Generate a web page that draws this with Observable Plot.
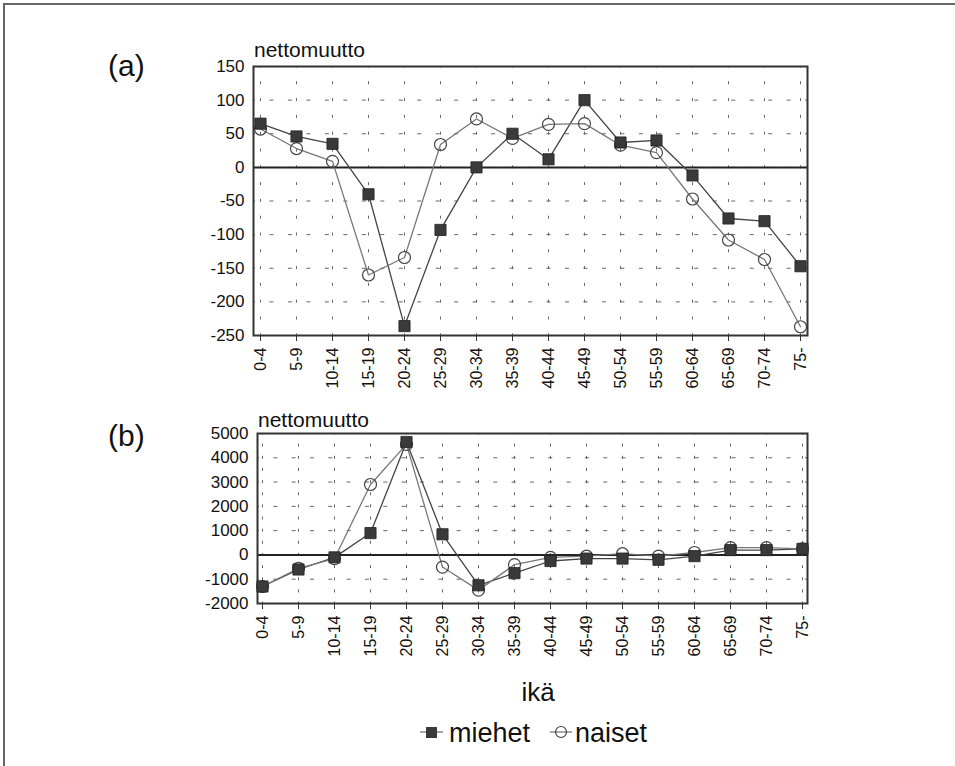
<!DOCTYPE html>
<html><head><meta charset="utf-8">
<script src="https://cdn.jsdelivr.net/npm/d3@7"></script>
<script src="https://cdn.jsdelivr.net/npm/@observablehq/plot@0.6"></script>
<style>
body{margin:0;background:#fff;font-family:"Liberation Sans",Arial,Helvetica,sans-serif;}
#wrap{position:relative;width:955px;height:766px;overflow:hidden;background:#fff;}
.frame{position:absolute;left:3px;top:3px;width:1000px;height:800px;border-left:2px solid #666;border-top:2px solid #666;box-sizing:border-box;}
#pa{position:absolute;left:0;top:0;}
#pb{position:absolute;left:0;top:400px;}
#ov{position:absolute;left:0;top:0;pointer-events:none;}
</style></head><body>
<div id="wrap"><div class="frame"></div><div id="pa"></div><div id="pb"></div></div>
<script>
// ---- data ----
const ageGroups = ["0-4","5-9","10-14","15-19","20-24","25-29","30-34","35-39","40-44","45-49","50-54","55-59","60-64","65-69","70-74","75-"];
const miehetA = [65, 46, 35, -40, -236, -93, 0, 50, 12, 100, 37, 40, -12, -76, -80, -147];
const naisetA = [57, 28, 9, -160, -134, 34, 72, 43, 64, 65, 33, 22, -47, -108, -137, -237];
const miehetB = [-1300, -600, -100, 900, 4650, 850, -1250, -750, -250, -150, -150, -200, -50, 200, 200, 250];
const naisetB = [-1300, -550, -150, 2900, 4550, -500, -1450, -400, -100, -50, 50, -50, 100, 300, 300, 250];
const ticksA = [150, 100, 50, 0, -50, -100, -150, -200, -250];
const ticksB = [5000, 4000, 3000, 2000, 1000, 0, -1000, -2000];
const seriesNames = ["miehet", "naiset"];

const font = '"Liberation Sans",Arial,Helvetica,sans-serif';

function rows(vals){ return ageGroups.map((a,i)=>({age:a, value:vals[i]})); }

function panel(opts){
  const {m, n, ticks, domain, height, marginTop, marginBottom, marginLeft, vDash, hDash} = opts;
  const dm = rows(m), dn = rows(n);
  return Plot.plot({
    width: 955, height, marginLeft, marginRight: 148, marginTop, marginBottom,
    style: {fontFamily: font, background: "transparent", color: "#111", overflow: "visible"},
    x: {type: "point", domain: ageGroups, padding: 0, axis: null},
    y: {domain, axis: null},
    marks: [
      Plot.ruleY(ticks, {stroke: "#666", strokeWidth: 1, strokeDasharray: hDash, strokeDashoffset: 2}),
      Plot.ruleX(ageGroups, {stroke: "#666", strokeWidth: 1, strokeDasharray: vDash, strokeDashoffset: 1.5}),
      Plot.ruleY([0], {stroke: "#222", strokeWidth: 2}),
      Plot.frame({stroke: "#333", strokeWidth: 2}),
      Plot.axisY({ticks, tickSize: 0, tickPadding: 9, fontSize: 17, label: null, tickFormat: d => String(d)}),
      Plot.axisX({tickRotate: -90, tickSize: 6, tickPadding: 6, fontSize: 16, label: null, stroke: "#333"}),
      Plot.line(dm, {x: "age", y: "value", stroke: "#444", strokeWidth: 1.3}),
      Plot.line(dn, {x: "age", y: "value", stroke: "#777", strokeWidth: 1.3}),
      Plot.dot(dn, {x: "age", y: "value", symbol: "circle", r: 6, stroke: "#444", strokeWidth: 1.2, fill: "none"}),
      Plot.dot(dm, {x: "age", y: "value", symbol: "square", r: 6.3, fill: "#3a3a3a", stroke: "#222", strokeWidth: 0.8})
    ]
  });
}

document.getElementById("pa").appendChild(panel({
  m: miehetA, n: naisetA, ticks: ticksA, domain: [-250, 150],
  height: 400, marginTop: 66, marginBottom: 65, marginLeft: 253,
  vDash: "3,13.8", hDash: "4,14.47"
}));
document.getElementById("pb").appendChild(panel({
  m: miehetB, n: naisetB, ticks: ticksB, domain: [-2000, 5000],
  height: 270, marginTop: 33, marginBottom: 67, marginLeft: 257,
  vDash: "3,9.15", hDash: "4,14.33"
}));

// ---- overlay texts & legend ----
const ov = d3.select("#wrap").append("svg").attr("id","ov").attr("width",955).attr("height",766)
  .style("font-family", font);
const t = (x,y,s,size,anchor) => ov.append("text").attr("x",x).attr("y",y).attr("font-size",size)
  .attr("text-anchor",anchor||"start").attr("fill","#111").text(s);
t(108, 76, "(a)", 30);
t(254, 57, "nettomuutto", 21);
t(108, 446, "(b)", 30);
t(258, 427, "nettomuutto", 21);
t(538, 701, "ikä", 26, "middle");
// legend
ov.append("line").attr("x1",420).attr("x2",443).attr("y1",732).attr("y2",732).attr("stroke","#777").attr("stroke-width",1.3);
ov.append("rect").attr("x",426).attr("y",727).attr("width",11).attr("height",11).attr("fill","#3a3a3a");
t(449, 742, seriesNames[0], 27);
ov.append("line").attr("x1",550).attr("x2",572).attr("y1",732).attr("y2",732).attr("stroke","#777").attr("stroke-width",1.3);
ov.append("circle").attr("cx",561).attr("cy",732).attr("r",5.5).attr("fill","none").attr("stroke","#444").attr("stroke-width",1.2);
t(575, 742, seriesNames[1], 27);
</script>
</body></html>
